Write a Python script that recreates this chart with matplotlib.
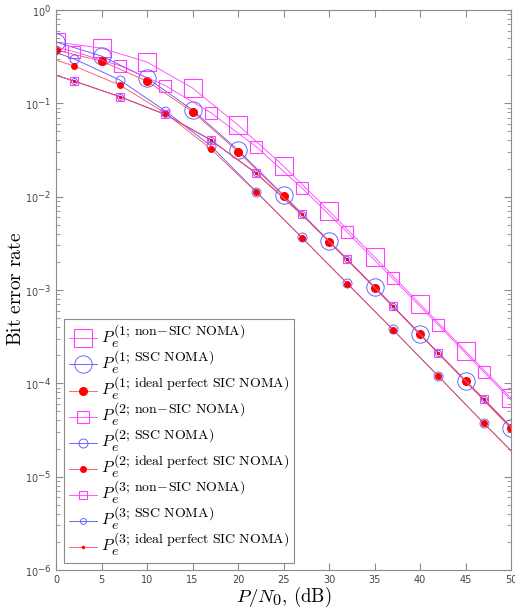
import numpy as np
import matplotlib
matplotlib.use("Agg")
import matplotlib.pyplot as plt
import matplotlib._mathtext as mt
from matplotlib.lines import Line2D
from matplotlib.font_manager import FontProperties
from matplotlib.ticker import LogLocator, NullFormatter

# larger superscripts, like the LaTeX interpreter of the original
mt.SHRINK_FACTOR = 0.87

# SNR grids (dB)
snr1 = [0, 5, 10, 15, 20, 25, 30, 35, 40, 45, 50]
snr23 = [0, 2, 7, 12, 17, 22, 27, 32, 37, 42, 47, 50]

# user 1
u1_nonsic = [0.454, 0.39, 0.277, 0.146, 0.0586, 0.0213, 0.00702, 0.00226, 7.08e-4, 2.22e-4, 6.97e-5]
u1_ssc = [0.454, 0.321, 0.187, 0.0849, 0.0316, 0.0104, 0.00335, 0.00108, 3.38e-4, 1.06e-4, 3.32e-5]
u1_sic = [0.373, 0.284, 0.173, 0.0814, 0.0303, 0.0102, 0.0033, 0.00106, 3.35e-4, 1.05e-4, 3.3e-5]
# user 2 (first and last points are line ends, no marker)
u2_nonsic = [0.40, 0.358, 0.253, 0.155, 0.0794, 0.0343, 0.01247, 0.00415, 0.00133, 4.22e-4, 1.33e-4, 6.6e-5]
u2_ssc = [0.35, 0.299, 0.178, 0.083, 0.0351, 0.0113, 0.00367, 0.00118, 3.79e-4, 1.2e-4, 3.76e-5, 1.9e-5]
u2_sic = [0.29, 0.251, 0.157, 0.079, 0.0326, 0.0112, 0.00365, 0.00117, 3.77e-4, 1.19e-4, 3.74e-5, 1.88e-5]
# user 3
u3_nonsic = [0.20, 0.173, 0.118, 0.076, 0.0405, 0.0178, 0.00646, 0.00213, 6.74e-4, 2.11e-4, 6.8e-5, 3.4e-5]
u3_ssc = [0.20, 0.173, 0.118, 0.076, 0.0405, 0.0178, 0.00646, 0.00213, 6.74e-4, 2.11e-4, 6.8e-5, 3.4e-5]
u3_sic = [0.20, 0.173, 0.118, 0.076, 0.0405, 0.0178, 0.00646, 0.00213, 6.74e-4, 2.11e-4, 6.8e-5, 3.4e-5]

labels = [
    r'$P_e^{(1;\,\mathrm{non\!-\!SIC\ NOMA})}$',
    r'$P_e^{(1;\,\mathrm{SSC\ NOMA})}$',
    r'$P_e^{(1;\,\mathrm{ideal\ perfect\ SIC\ NOMA})}$',
    r'$P_e^{(2;\,\mathrm{non\!-\!SIC\ NOMA})}$',
    r'$P_e^{(2;\,\mathrm{SSC\ NOMA})}$',
    r'$P_e^{(2;\,\mathrm{ideal\ perfect\ SIC\ NOMA})}$',
    r'$P_e^{(3;\,\mathrm{non\!-\!SIC\ NOMA})}$',
    r'$P_e^{(3;\,\mathrm{SSC\ NOMA})}$',
    r'$P_e^{(3;\,\mathrm{ideal\ perfect\ SIC\ NOMA})}$',
]

mag = '#ff40ff'
blu = '#5050ff'
red = '#ff0000'
redl = '#ff5050'

styles = [
    dict(color=mag, marker='s', ms=12.5, mfc='none', mew=0.8),
    dict(color=blu, marker='o', ms=12.5, mfc='none', mew=0.6),
    dict(color=redl, marker='o', ms=5.5, mfc=red, mec=red),
    dict(color=mag, marker='s', ms=9, mfc='none', mew=0.8),
    dict(color=blu, marker='o', ms=6.5, mfc='none', mew=0.6),
    dict(color=redl, marker='o', ms=4, mfc=red, mec=red),
    dict(color=mag, marker='s', ms=6, mfc='none', mew=0.8),
    dict(color=blu, marker='o', ms=4.3, mfc='none', mew=0.6),
    dict(color=redl, marker='o', ms=1.5, mfc=red, mec=red),
]
series = [(snr1, u1_nonsic), (snr1, u1_ssc), (snr1, u1_sic),
          (snr23, u2_nonsic), (snr23, u2_ssc), (snr23, u2_sic),
          (snr23, u3_nonsic), (snr23, u3_ssc), (snr23, u3_sic)]

fig = plt.figure(figsize=(5.15, 6.12), dpi=100)
ax = fig.add_axes([56/515, 1-570/612, 455/515, 560/612])

handles = []
for (x, y), st in zip(series, styles):
    # user 2/3 curves have no marker at the two line ends
    me = None if x is snr1 else slice(1, -1)
    ax.plot(x, y, lw=0.6, markevery=me, **st)
    handles.append(Line2D([], [], lw=0.6, **st))

ax.set_yscale('log')
ax.set_xlim(0, 50)
ax.set_ylim(1e-6, 1)
ax.set_xticks(np.arange(0, 51, 5))
ax.yaxis.set_major_locator(LogLocator(base=10, numticks=10))
ax.yaxis.set_minor_locator(LogLocator(base=10, subs=np.arange(2, 10), numticks=20))
ax.yaxis.set_minor_formatter(NullFormatter())

for s in ax.spines.values():
    s.set_color('#8c8c8c')
    s.set_linewidth(0.8)
ax.tick_params(which='both', direction='in', top=True, right=True, colors='#8c8c8c',
               labelcolor='#444444', labelsize=7)
ax.tick_params(which='major', length=5)
ax.tick_params(which='minor', length=3)

ax.set_xlabel(r'$P/N_0,\,\mathrm{(dB)}$', fontsize=13.5, math_fontfamily='cm', labelpad=0)
ax.set_ylabel(r'$\mathrm{Bit\ error\ rate}$', fontsize=14, math_fontfamily='cm')
ax.yaxis.set_label_coords(-0.068, 0.502)

leg = ax.legend(handles, labels, loc='lower left', bbox_to_anchor=(0.0176, 0.0125), borderaxespad=0,
                prop=FontProperties(size=11.5, math_fontfamily='cm'), fancybox=False,
                edgecolor='#8c8c8c', framealpha=1, handlelength=1.75, handletextpad=0.25,
                labelspacing=0.0, borderpad=0.3)
leg.get_frame().set_linewidth(0.8)

fig.savefig('out.png', dpi=100)
